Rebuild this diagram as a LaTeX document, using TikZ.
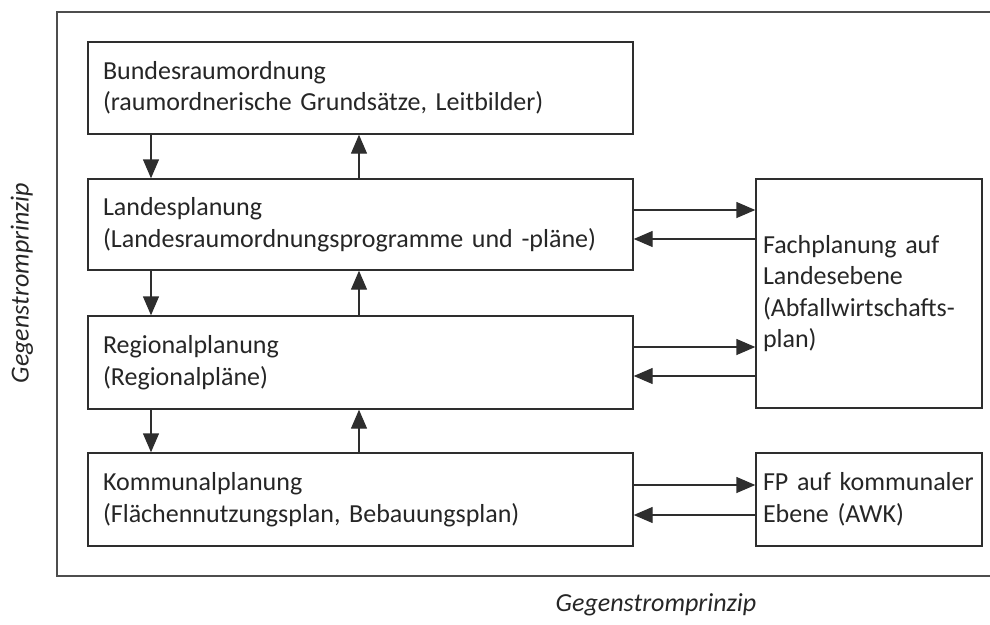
\documentclass[tikz,border=0pt]{standalone}
\usepackage{fontspec}
\setmainfont{Carlito}
\usetikzlibrary{arrows.meta}
\definecolor{linec}{HTML}{2E2E2E}
\definecolor{txtc}{HTML}{262626}
\begin{document}
\begin{tikzpicture}[x=1pt,y=-1pt,
  box/.style={draw=linec, line width=1.4pt, rectangle, align=left, text=txtc,
    inner xsep=15pt, inner ysep=0pt, font=\fontsize{26}{31.5}\selectfont, anchor=center},
  arr/.style={draw=linec, line width=1.4pt, -{Triangle[length=19pt,width=16pt]}},
  frame/.style={draw=linec!85, line width=1.4pt},
  lbl/.style={text=txtc, font=\fontsize{26}{31.5}\selectfont\itshape}]
\useasboundingbox (0,0) rectangle (990,624);
\draw[frame] (990,12) -- (57,12) -- (57,576) -- (990,576);

\node[box, text width=515pt, minimum height=92pt] (bund) at (360.5,88)
  {Bundesraumordnung\\(raumordnerische Grundsätze, Leitbilder)};
\node[box, text width=515pt, minimum height=91pt] (land) at (360.5,224.5)
  {Landesplanung\\(Landesraumordnungsprogramme und -pläne)};
\node[box, text width=515pt, minimum height=93pt] (reg) at (360.5,362.5)
  {Regionalplanung\\(Regionalpläne)};
\node[box, text width=515pt, minimum height=93pt] (kom) at (360.5,499.5)
  {Kommunalplanung\\(Flächennutzungsplan, Bebauungsplan)};
\node[box, minimum height=229pt, inner xsep=7pt, text width=212pt] (fach) at (869,293.5)
  {Fachplanung auf\\Landesebene\\(Abfallwirtschafts-\\plan)};
\node[box, text width=212pt, inner xsep=7pt, minimum height=93pt] (fp) at (869,499.5)
  {FP auf kommunaler\\Ebene (AWK)};

\node[lbl, rotate=90] (lleft) at (22,283) {Gegenstromprinzip};
\node[lbl] (lbot) at (656,605) {Gegenstromprinzip};

\coordinate (dx) at (151,0);
\coordinate (ux) at (359,0);
\draw[arr] (bund.south -| dx) -- (land.north -| dx);
\draw[arr] (land.north -| ux) -- (bund.south -| ux);
\draw[arr] (land.south -| dx) -- (reg.north -| dx);
\draw[arr] (reg.north -| ux) -- (land.south -| ux);
\draw[arr] (reg.south -| dx) -- (kom.north -| dx);
\draw[arr] (kom.north -| ux) -- (reg.south -| ux);

\coordinate (r1) at (0,210);
\coordinate (l1) at (0,239);
\coordinate (r2) at (0,347);
\coordinate (l2) at (0,376);
\coordinate (r3) at (0,485);
\coordinate (l3) at (0,515);
\draw[arr] (land.east |- r1) -- (fach.west |- r1);
\draw[arr] (fach.west |- l1) -- (land.east |- l1);
\draw[arr] (reg.east |- r2) -- (fach.west |- r2);
\draw[arr] (fach.west |- l2) -- (reg.east |- l2);
\draw[arr] (kom.east |- r3) -- (fp.west |- r3);
\draw[arr] (fp.west |- l3) -- (kom.east |- l3);
\end{tikzpicture}
\end{document}
